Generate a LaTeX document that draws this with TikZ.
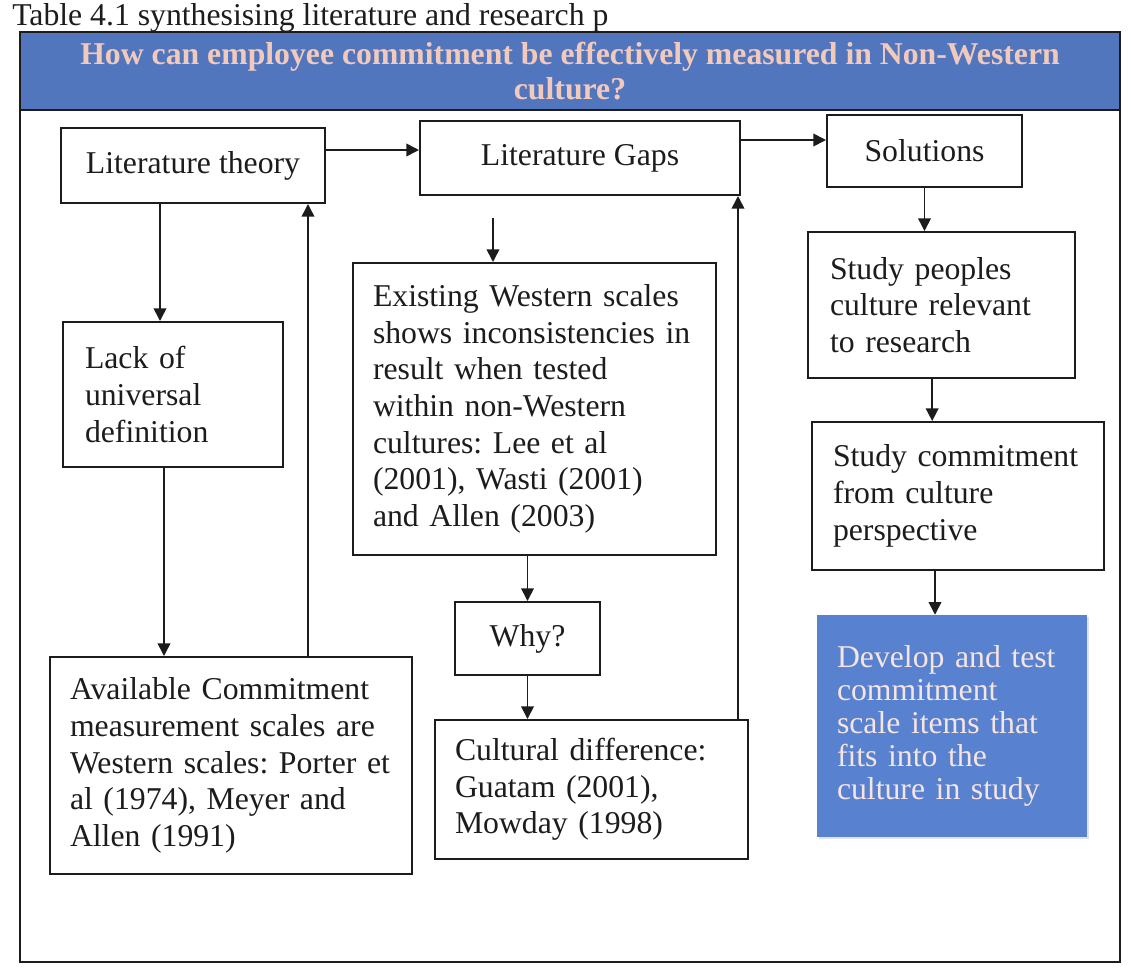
\documentclass[tikz,border=0pt]{standalone}
\usepackage{fontspec}
\setmainfont{Liberation Serif}
\usetikzlibrary{arrows.meta,shadows}

\definecolor{ink}{RGB}{28,28,28}
\definecolor{headblue}{RGB}{82,118,190}
\definecolor{headtext}{RGB}{242,202,188}
\definecolor{devblue}{RGB}{88,130,208}
\definecolor{devtext}{RGB}{246,228,226}

\begin{document}
\frenchspacing
\begin{tikzpicture}[x=0.75pt,y=-0.75pt,
  every node/.style={font=\fontsize{23.8pt}{27.5pt}\selectfont, text=ink},
  box/.style={draw=ink, line width=1.5pt, rectangle, inner ysep=0pt, inner xsep=0pt},
  leftbox/.style={box, align=left},
  flow/.style={draw=ink, line width=1.2pt, -{Triangle[length=9.5pt,width=9.5pt]}}
]
\useasboundingbox (0,0) rectangle (1131,976);

% caption above the frame
\node (caption) [anchor=base west, inner sep=0pt] at (12,25)
  {Table 4.1 synthesising literature and research p};

% outer frame
\draw[ink, line width=1.5pt] (20,32) rectangle (1120,962);

% research question banner
\node (question) [draw=ink, line width=1.5pt, fill=headblue, minimum width=825pt,
  minimum height=58.5pt, inner sep=0pt, align=center, text=headtext,
  font=\fontsize{23.8pt}{26.25pt}\selectfont\bfseries] at (570,71)
  {How can employee commitment be effectively measured in Non-Western\\culture?};

% top row
\node (lt) [box, minimum width=198pt, minimum height=56.25pt] at (193,165.5)
  {Literature theory};
\node (gaps) [box, minimum width=240pt, minimum height=55.5pt] at (580,158)
  {Literature Gaps};
\node (sol) [box, minimum width=146.25pt, minimum height=54pt] at (924.5,151)
  {Solutions};

% literature theory column
\node (lack) [leftbox, text width=132pt, inner xsep=16.5pt, minimum height=108.75pt]
  at (173,394.5) {Lack of\\universal\\definition};
\node (avail) [leftbox, text width=241.5pt, inner xsep=15pt, minimum height=162.75pt]
  at (231,765.5) {Available Commitment\\measurement scales are\\Western scales: Porter et\\al (1974), Meyer and\\Allen (1991)};

% literature gaps column
\node (exist) [leftbox, text width=242.25pt, inner xsep=15pt, minimum height=219pt]
  at (534.5,409) {Existing Western scales\\shows inconsistencies in\\result when tested\\within non-Western\\cultures: Lee et al\\(2001), Wasti (2001)\\and Allen (2003)};
\node (why) [box, minimum width=108.75pt, minimum height=54.75pt] at (527.5,638.5)
  {Why?};
\node (cult) [leftbox, text width=204.75pt, inner xsep=15pt, minimum height=104.25pt]
  at (591.5,789.5) {Cultural difference:\\Guatam (2001),\\Mowday (1998)};

% solutions column
\node (people) [leftbox, text width=167.25pt, inner xsep=16.5pt, minimum height=109.5pt]
  at (941.5,305) {Study peoples\\culture relevant\\to research};
\node (commit) [leftbox, text width=187.5pt, inner xsep=15.75pt, minimum height=111pt]
  at (958,496) {Study commitment\\from culture\\perspective};
\node (dev) [rectangle, fill=devblue, text=devtext, align=left, text width=172.5pt,
  inner xsep=15pt, inner ysep=0pt, minimum height=166.5pt,
  font=\fontsize{23.8pt}{24.75pt}\selectfont,
  drop shadow={shadow xshift=1.5pt, shadow yshift=-1.5pt, fill=gray!45}]
  at (952,726) {Develop and test\\commitment\\scale items that\\fits into the\\culture in study};

% connector end points
\coordinate (g1) at ([yshift=6pt]gaps.west);
\coordinate (s1) at ([yshift=8.25pt]sol.west);
\coordinate (p1) at ([xshift=-7pt]people.south);
\coordinate (c1) at ([xshift=-17.25pt]commit.south);
\coordinate (l1) at ([xshift=-24.75pt]lt.south);
\coordinate (k1) at ([xshift=-6.75pt]lack.south);
\coordinate (a1) at ([xshift=57.75pt]avail.north);
\coordinate (gapsdrop) at (493,218);
\coordinate (d1) at ([xshift=-8.25pt]cult.north east);

% connectors
\draw[flow] (lt.east |- g1) -- (g1);
\draw[flow] (gaps.east |- s1) -- (s1);
\draw[flow] (sol.south) -- (sol.south |- people.north);
\draw[flow] (p1) -- (p1 |- commit.north);
\draw[flow] (c1) -- (c1 |- dev.north);
\draw[flow] (l1) -- (l1 |- lack.north);
\draw[flow] (k1) -- (k1 |- avail.north);
\draw[flow] (a1) -- (a1 |- lt.south);
\draw[flow] (gapsdrop) -- (gapsdrop |- exist.north);
\draw[flow] (why.north |- exist.south) -- (why.north);
\draw[flow] (why.south) -- (why.south |- cult.north);
\draw[flow] (d1) -- (d1 |- gaps.south);
\end{tikzpicture}
\end{document}
